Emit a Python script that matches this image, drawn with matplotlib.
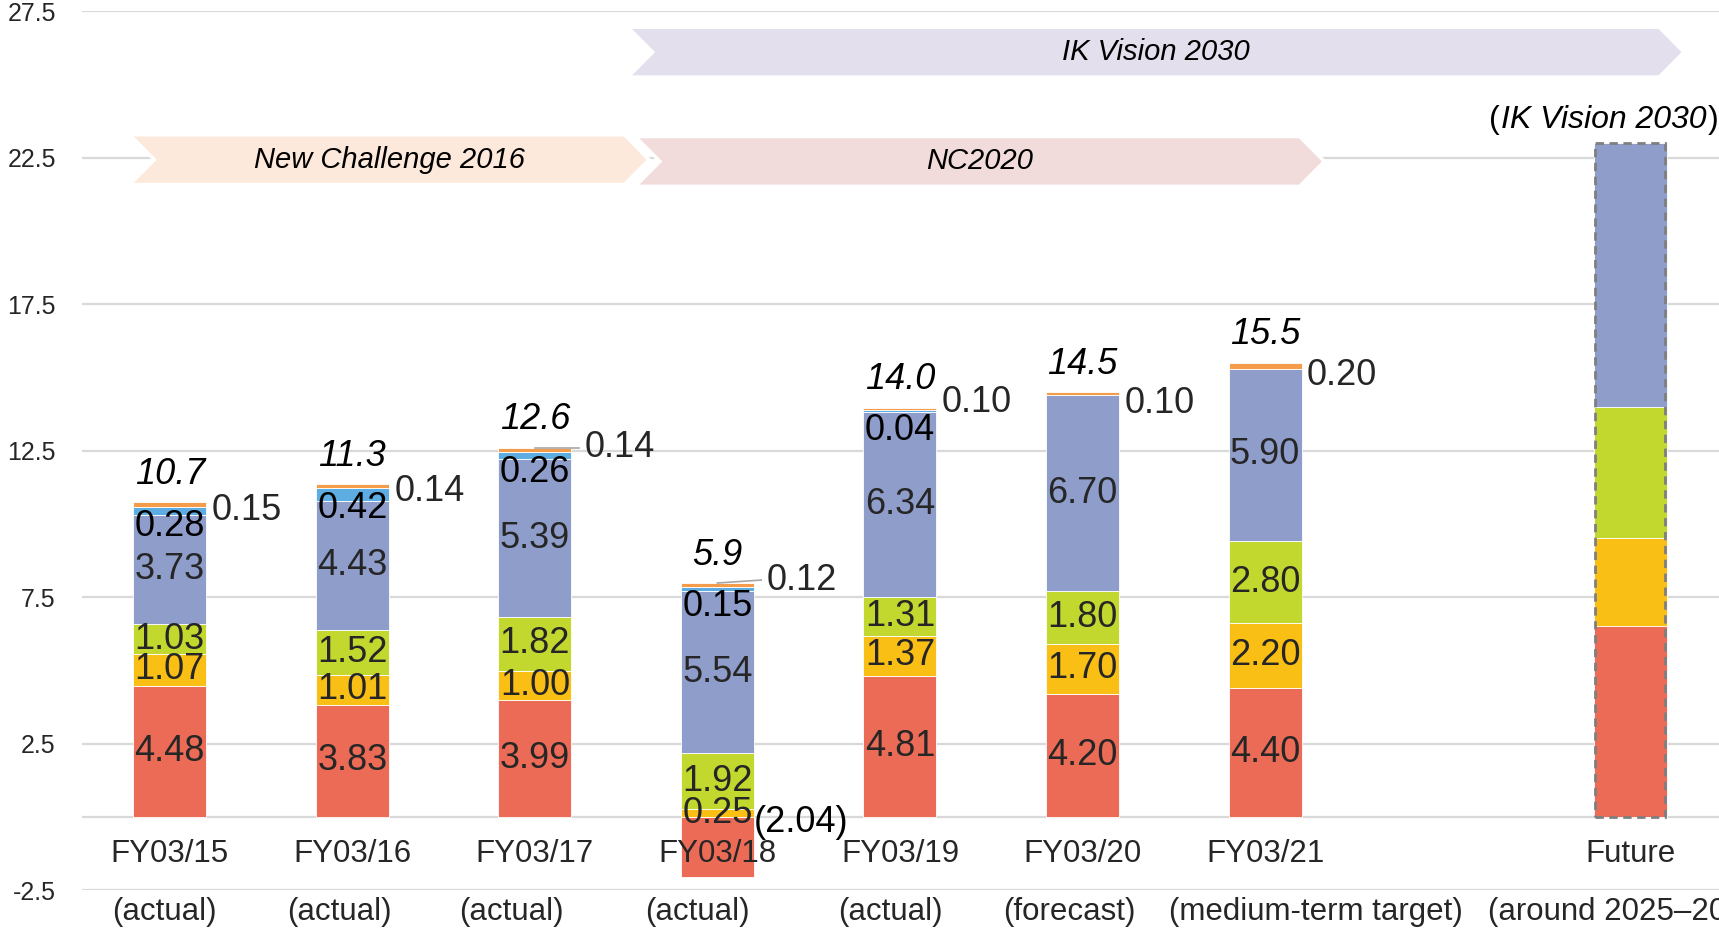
import matplotlib
matplotlib.use("Agg")
import matplotlib.pyplot as plt
from matplotlib.patches import Polygon

plt.rcParams.update({
    "font.family": ["Liberation Sans", "DejaVu Sans"],
})

# --- data ---
categories = ["FY03/15", "FY03/16", "FY03/17", "FY03/18", "FY03/19", "FY03/20", "FY03/21", "", "Future"]
sublabels = ["(actual)", "(actual)", "(actual)", "(actual)", "(actual)",
             "(forecast)", "(medium-term target)", "", "(around 2025–2030)"]

red       = [4.48, 3.83, 3.99, -2.04, 4.81, 4.20, 4.40, 0, 6.5]
yellow    = [1.07, 1.01, 1.00, 0.25, 1.37, 1.70, 2.20, 0, 3.0]
green     = [1.03, 1.52, 1.82, 1.92, 1.31, 1.80, 2.80, 0, 4.5]
blue      = [3.73, 4.43, 5.39, 5.54, 6.34, 6.70, 5.90, 0, 9.0]
lightblue = [0.28, 0.42, 0.26, 0.15, 0.04, 0, 0, 0, 0]
toporange = [0.15, 0.14, 0.14, 0.12, 0.10, 0.10, 0.20, 0, 0]
totals    = ["10.7", "11.3", "12.6", "5.9", "14.0", "14.5", "15.5", "", ""]

yticks = [-2.5, 2.5, 7.5, 12.5, 17.5, 22.5, 27.5]

phases = [  # label, start, end, row centre, colour
    ("New Challenge 2016", -0.22, 2.49, 22.43, "#FDE9DB"),
    ("NC2020",              2.55, 6.19, 22.37, "#F2DCDB"),
    ("IK Vision 2030",      2.51, 8.16, 26.10, "#E4DFEC"),
]

# layout tweaks
side_dy = [-0.2, -0.16, 0.1, 0.2, 0.28, -0.28, -0.35, 0, 0]
leader  = [False, False, True, True, False, False, False, False, False]
sub_dx  = [-0.03, -0.07, -0.13, -0.11, -0.05, -0.07, 0.28, 0, 0]

colors = ["#EC6B56", "#F9BF15", "#C2D82E", "#8F9DCB", "#5DADE2", "#F59C4B"]
series = [red, yellow, green, blue, lightblue, toporange]
TXT = "#262626"
W = 0.4

fig = plt.figure(figsize=(17.19, 9.30), dpi=100)
ax = fig.add_axes([0.0478, 0.043, 0.9522, 0.945])
ax.set_xlim(-0.48, 8.487)
ax.set_ylim(-2.5, 27.5)
for s in ax.spines.values():
    s.set_visible(False)
ax.set_xticks([])
ax.set_yticks(yticks)
ax.set_yticklabels([f"{t:.1f}" for t in yticks])
ax.tick_params(axis="y", length=0, pad=19, labelsize=18, labelcolor=TXT)
ax.grid(axis="y", color="#D9D9D9", lw=1.6)
ax.axhline(0, color="#D9D9D9", lw=1.6, zorder=0)
ax.set_axisbelow(True)

n = len(categories)
pos = [0.0] * n
neg = [0.0] * n
for k, (vals, col) in enumerate(zip(series, colors)):
    for i, v in enumerate(vals):
        if v == 0 or categories[i] == "":
            continue
        if v > 0:
            b = pos[i]; pos[i] += v
        else:
            b = neg[i]; neg[i] += v
        ax.bar(i, v, width=W, bottom=b, color=col, edgecolor="white", linewidth=0.6, zorder=2)
        if categories[i] == "Future":
            continue
        lab = f"{abs(v):.2f}"
        if v < 0:
            ax.text(i + W / 2, -0.19, f"({lab})", ha="left", va="center", fontsize=26, color="black", zorder=6)
        elif k < 4:
            ax.text(i, b + v / 2, lab, ha="center", va="center", fontsize=26, color=TXT, zorder=6)
        elif k == 4:
            ax.text(i, b + v - 0.1, lab, ha="center", va="top", fontsize=26, color="black", zorder=6)
        else:
            top = b + v
            ly = top - 0.1 + side_dy[i]
            lx = i + (0.27 if leader[i] else 0.23)
            if leader[i]:
                ax.plot([i, lx - 0.03], [top, ly], color="#A6A6A6", lw=1.2, zorder=6)
            ax.text(lx, ly, lab, ha="left", va="center", fontsize=26, color=TXT, zorder=6)

# totals
for i, t in enumerate(totals):
    if t:
        ax.text(i, pos[i] + 0.95, t, ha="center", va="center", fontsize=26,
                style="italic", color="black", zorder=6)

# dashed outline on the future bar
fi = categories.index("Future")
ax.bar(fi, pos[fi], width=W * 0.96, fill=False, edgecolor="#7F7F7F",
       linestyle=(0, (3, 2)), linewidth=2, zorder=4)

# "(IK Vision 2030)" with upright brackets around italic text
mid = ax.text(fi - 0.144, pos[fi] + 0.77, "IK Vision 2030", ha="center", va="center",
              fontsize=23, style="italic", color="black", zorder=6)
fig.canvas.draw()
bb = mid.get_window_extent().transformed(ax.transData.inverted())
ax.text(bb.x0 - 0.005, pos[fi] + 0.77, "(", ha="right", va="center", fontsize=23, color="black", zorder=6)
ax.text(bb.x1 + 0.005, pos[fi] + 0.77, ")", ha="left", va="center", fontsize=23, color="black",
        zorder=6, clip_on=False)

# category labels
for i, (c, s) in enumerate(zip(categories, sublabels)):
    if c:
        ax.text(i, -1.27, c, ha="center", va="center", fontsize=22.5, color=TXT, zorder=7)
    if s:
        ax.text(i + sub_dx[i], -3.25, s, ha="center", va="center", fontsize=22.5,
                color=TXT, zorder=7, clip_on=False)

# plan banners
depth = 0.135
for label, x0, x1, yc, col in phases:
    h = 1.7
    pts = [(x0, yc + h / 2), (x1, yc + h / 2), (x1 + depth, yc),
           (x1, yc - h / 2), (x0, yc - h / 2), (x0 + depth, yc)]
    ax.add_patch(Polygon(pts, closed=True, facecolor=col, edgecolor="white", lw=2.5, zorder=3))
    ax.text((x0 + x1 + depth) / 2, yc, label, ha="center", va="center", fontsize=21,
            style="italic", color="black", zorder=5)

fig.savefig("out.png", dpi=100)
